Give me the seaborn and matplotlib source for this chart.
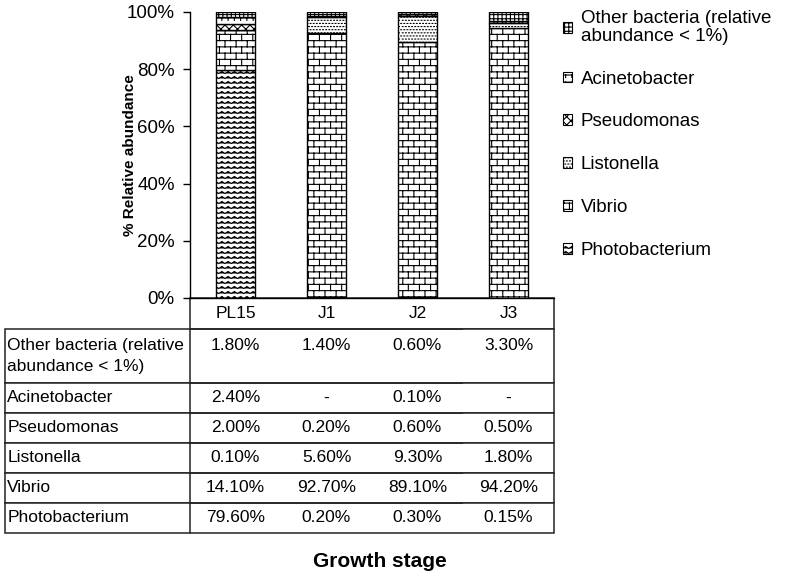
import warnings
import numpy as np
import matplotlib
matplotlib.use("Agg")
import matplotlib.pyplot as plt
import matplotlib.hatch as mhatch
from matplotlib.path import Path
from matplotlib.patches import Patch
from matplotlib.ticker import FuncFormatter
import seaborn as sns

warnings.filterwarnings("ignore")

# ---------------- data ----------------
stages = ["PL15", "J1", "J2", "J3"]
taxa = ["Photobacterium", "Vibrio", "Listonella", "Pseudomonas",
        "Acinetobacter", "Other bacteria (relative\nabundance < 1%)"]
photobacterium = [79.6, 0.2, 0.3, 0.15]
vibrio = [14.1, 92.7, 89.1, 94.2]
listonella = [0.1, 5.6, 9.3, 1.8]
pseudomonas = [2.0, 0.2, 0.6, 0.5]
acinetobacter = [2.4, None, 0.1, None]
other = [1.8, 1.4, 0.6, 3.3]
y_ticks = [0, 20, 40, 60, 80, 100]

series = [photobacterium, vibrio, listonella, pseudomonas, acinetobacter, other]


# ---------------- custom hatch patterns ----------------
class _Pattern(mhatch.HatchPatternBase):
    key = None

    def __init__(self, hatch, density):
        self.segs = self.build() if (hatch and self.key in hatch) else []
        self.num_vertices = sum(len(s) for s in self.segs)

    def build(self):
        return []

    def set_vertices_and_codes(self, vertices, codes):
        i = 0
        for s in self.segs:
            n = len(s)
            vertices[i:i + n] = s
            codes[i] = Path.MOVETO
            codes[i + 1:i + n] = Path.LINETO
            i += n


class _Brick(_Pattern):
    key = "B"

    def build(self):
        R, C = 16, 9
        segs = []
        for r in range(R):
            y = (r + 0.5) / R
            segs.append([(0.0, y), (1.0, y)])
            off = 0.5 * (r % 2)
            for c in range(C):
                x = (c + 0.25 + off) / C
                y2 = y + 1.0 / R
                if y2 <= 1.0:
                    segs.append([(x, y), (x, y2)])
                else:
                    segs.append([(x, y), (x, 1.0)])
                    segs.append([(x, 0.0), (x, y2 - 1.0)])
        return segs


class _Zig(_Pattern):
    key = "Z"

    def build(self):
        R, P = 20, 16
        segs = []
        for r in range(R):
            base = (r + 0.3) / R
            amp = 0.4 / R
            segs.append([(k / (2 * P), base + amp * (k % 2)) for k in range(2 * P + 1)])
        return segs


class _Tick(_Pattern):
    key = "T"

    def build(self):
        R, C = 14, 16
        segs = []
        for r in range(R):
            y = (r + 0.5) / R
            segs.append([(0.0, y), (1.0, y)])
            for c in range(C):
                x = (c + 0.5) / C
                segs.append([(x, y), (x, y - 0.35 / R)])
        return segs


class _Dots(_Pattern):
    key = "D"

    def build(self):
        N = 32
        segs = []
        for r in range(N):
            y = (r + 0.5) / N
            off = 0.5 * (r % 2)
            for c in range(N):
                x = (c + 0.25 + off) / N
                segs.append([(x, y), (x + 0.008, y)])
        return segs


mhatch._hatch_types.extend([_Brick, _Zig, _Tick, _Dots])
mhatch._validate_hatch_pattern = lambda hatch: None

hatches = ["Z", "B", "D", "xxxx", "T", "++++"]

# ---------------- style ----------------
sns.set_theme(style="white")
plt.rcParams["font.family"] = ["Liberation Sans", "DejaVu Sans"]
plt.rcParams["hatch.linewidth"] = 0.8
plt.rcParams["hatch.color"] = "black"

fig = plt.figure(figsize=(7.87, 5.81), dpi=100)
W, H = 787.0, 581.0
AX_W, AX_H = 364.0, 286.0
ax = fig.add_axes([190 / W, 1 - 298 / H, AX_W / W, AX_H / H])

vals = np.array([[0.0 if v is None else v for v in s] for s in series], float)
shares = vals / vals.sum(axis=0) * 100.0

bottom = np.zeros(len(stages))
for name, share, hatch in zip(taxa, shares, hatches):
    sns.barplot(x=stages, y=share, order=stages, bottom=bottom, width=0.42,
                color="white", edgecolor="black", linewidth=1.0, hatch=hatch,
                saturation=1, errorbar=None, ax=ax)
    bottom = bottom + share

ax.set_xlim(-0.5, len(stages) - 0.5)
ax.set_ylim(0, 100)
ax.set_yticks(y_ticks)
ax.yaxis.set_major_formatter(FuncFormatter(lambda v, p: f"{v:.0f}%"))
ax.tick_params(axis="y", left=True, length=5, width=1, color="black",
               pad=6, labelsize=13.5, labelcolor="black")
ax.tick_params(axis="x", bottom=False, labelbottom=False)
for s in ["top", "right"]:
    ax.spines[s].set_visible(False)
for s in ["left", "bottom"]:
    ax.spines[s].set_color("black")
    ax.spines[s].set_linewidth(1.0)

ax.set_ylabel("% Relative abundance", fontsize=11, fontweight="bold", color="black")
ax.yaxis.set_label_coords(-0.165, 0.5)
ax.yaxis.label.set_va("center")
ax.set_xlabel("Growth stage", fontsize=15, fontweight="bold", color="black")
ax.xaxis.set_label_coords(0.522, -0.923)
ax.xaxis.label.set_va("center")


# ---------------- data table ----------------
def fmt(v):
    return "-" if v is None else f"{v:.2f}%"


row_labels = list(reversed(taxa))
cell_text = [[fmt(v) for v in s] for s in reversed(series)]
cell_text[0] = [t + "\n " for t in cell_text[0]]

tbl = ax.table(cellText=cell_text, rowLabels=row_labels, colLabels=stages,
               cellLoc="center", rowLoc="left", colLoc="center", loc="bottom")
tbl._autoColumns.clear()
tbl.auto_set_font_size(False)
tbl.set_fontsize(12.5)
ncol = len(stages)
for (r, c), cell in tbl.get_celld().items():
    cell.set_linewidth(1.1)
    cell.set_edgecolor("#222222")
    cell.set_width((185 if c == -1 else 91) / AX_W)
    cell.set_height((31 if r == 0 else (54 if r == 1 else 30)) / AX_H)
    cell.get_text().set_color("black")
    if c == -1:
        cell.visible_edges = "closed"
        cell.PAD = 0.012
    else:
        e = "TB"
        if c == 0 and r == 0:
            e += "L"
        if c == ncol - 1:
            e += "R"
        cell.visible_edges = e
    if r == 1:
        cell.get_text().set_linespacing(1.55)

# ---------------- legend ----------------
handles = [Patch(facecolor="white", edgecolor="black", linewidth=0.8, hatch=h, label=l)
           for l, h in zip(taxa, hatches)][::-1]
leg = fig.legend(handles=handles, loc="upper left",
                 bbox_to_anchor=(563 / W, 1 - 10 / H), frameon=False, fontsize=13.5,
                 handlelength=0.5, handleheight=0.5, handletextpad=0.45,
                 labelspacing=1.38, borderaxespad=0, borderpad=0)
for t in leg.get_texts():
    t.set_linespacing(1.05)
    t.set_color("black")

fig.savefig("out.png", dpi=100)
